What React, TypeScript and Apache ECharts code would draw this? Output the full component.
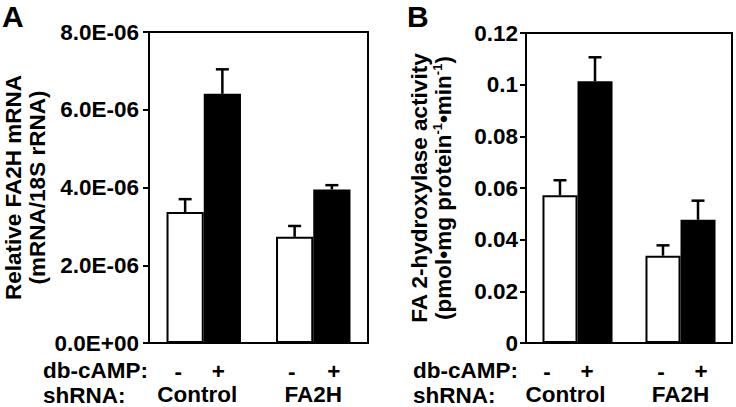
import React, { useEffect, useRef } from "react";
import * as echarts from "echarts";

// ---- data ----
const categories = ["Control", "FA2H"];
const treatmentSigns = ["-", "+"];
const seriesNames = ["db-cAMP -", "db-cAMP +"];

// Panel A: relative FA2H mRNA
const mrnaMinus = [3.37e-6, 2.73e-6];
const mrnaMinusErr = [0.33e-6, 0.28e-6];
const mrnaPlus = [6.41e-6, 3.95e-6];
const mrnaPlusErr = [0.63e-6, 0.11e-6];
const mrnaAxisMax = 8e-6;
const mrnaAxisInterval = 2e-6;

// Panel B: FA 2-hydroxylase activity
const actMinus = [0.0572, 0.0338];
const actMinusErr = [0.0058, 0.004];
const actPlus = [0.1013, 0.0477];
const actPlusErr = [0.0093, 0.0074];
const actAxisMax = 0.12;
const actAxisInterval = 0.02;

// ---- layout / style ----
const FONT = "'Liberation Sans', Arial, Helvetica, sans-serif";
const FS = 22.5;
const GAP = 0.32;

const expFmt = (v: number) => {
  if (v === 0) return "0.0E+00";
  const e = Math.floor(Math.log10(v) + 1e-9);
  const m = v / Math.pow(10, e);
  return m.toFixed(1) + "E" + (e < 0 ? "-" : "+") + String(Math.abs(e)).padStart(2, "0");
};

const txt = { color: "#000", fontFamily: FONT, fontWeight: "bold" as const, fontSize: FS };

function errorSeries(gridIdx: number, means: number[], errs: number[], side: number) {
  return {
    type: "custom",
    xAxisIndex: gridIdx,
    yAxisIndex: gridIdx,
    z: 5,
    silent: true,
    data: means.map((m, i) => [i, m, errs[i]]),
    renderItem: (params: any, api: any) => {
      const ci = api.value(0);
      const m = api.value(1);
      const e = api.value(2);
      const base = api.coord([ci, m]);
      const top = api.coord([ci, m + e]);
      const band = api.size([1, 0])[0];
      const bw = (band * (1 - GAP)) / 2;
      const x = base[0] + (side * bw) / 2;
      const cap = 6.5;
      const st = { stroke: "#000", lineWidth: 2.5 };
      return {
        type: "group",
        children: [
          { type: "line", shape: { x1: x, y1: base[1], x2: x, y2: top[1] }, style: st },
          { type: "line", shape: { x1: x - cap, y1: top[1], x2: x + cap, y2: top[1] }, style: st },
        ],
      };
    },
  };
}

function barSeries(gridIdx: number, name: string, values: number[], fill: string, sign: string, dx: number[]) {
  return {
    type: "bar",
    name,
    xAxisIndex: gridIdx,
    yAxisIndex: gridIdx,
    barGap: "0%",
    barCategoryGap: GAP * 100 + "%",
    itemStyle: { color: fill, borderColor: "#000", borderWidth: 2 },
    data: values.map((v, i) => ({
      value: v,
      label: {
        show: true,
        position: ["50%", "100%"],
        align: "center",
        verticalAlign: "middle",
        offset: [dx[i], 28],
        lineHeight: 20,
        formatter: () => sign,
        ...txt,
      },
    })),
  };
}

function xAxisCfg(gridIdx: number, shiftPad: number) {
  return {
    type: "category",
    gridIndex: gridIdx,
    data: categories,
    axisTick: { show: false },
    axisLine: { lineStyle: { color: "#000", width: 2 } },
    axisLabel: {
      margin: 42,
      interval: 0,
      formatter: (v: string, i: number) => `{c${i}|${v}}`,
      rich: {
        c0: { ...txt, lineHeight: 19, padding: [0, shiftPad, 0, 0] },
        c1: { ...txt, lineHeight: 19 },
      },
    },
  };
}

const rowLabel = (x: number, y: number, text: string) => ({
  type: "text",
  x,
  y,
  style: { text, fill: "#000", font: `bold ${FS}px ${FONT}`, lineHeight: 18, verticalAlign: "middle" },
});

export default function App() {
  const ref = useRef<HTMLDivElement>(null);
  useEffect(() => {
    if (!ref.current) return;
    const chart = echarts.init(ref.current, undefined, { renderer: "svg" });
    const nameRich = {
      n: { ...txt, lineHeight: 24, align: "center" },
      s: { ...txt, fontSize: 13, lineHeight: 14, verticalAlign: "top", align: "center" },
    };
    chart.setOption({
      animation: false,
      backgroundColor: "#fff",
      title: [
        { text: "A", left: 2, top: 1, padding: 0, textStyle: { ...txt, fontSize: 30, lineHeight: 30 } },
        { text: "B", left: 407, top: 1, padding: 0, textStyle: { ...txt, fontSize: 30, lineHeight: 30 } },
      ],
      grid: [
        { left: 148, right: 368, top: 32, bottom: 64, show: true, borderColor: "#000", borderWidth: 2, backgroundColor: "transparent" },
        { left: 526, right: 4, top: 33, bottom: 64, show: true, borderColor: "#000", borderWidth: 2, backgroundColor: "transparent" },
      ],
      xAxis: [xAxisCfg(0, 13), xAxisCfg(1, 24)],
      yAxis: [
        {
          type: "value",
          gridIndex: 0,
          min: 0,
          max: mrnaAxisMax,
          interval: mrnaAxisInterval,
          splitLine: { show: false },
          axisLine: { show: true, lineStyle: { color: "#000", width: 2 } },
          axisTick: { show: true, length: 6, lineStyle: { color: "#000", width: 2 } },
          axisLabel: { ...txt, margin: 10, formatter: expFmt },
          name: "Relative FA2H mRNA\n(mRNA/18S rRNA)",
          nameLocation: "middle",
          nameGap: 100,
          nameTextStyle: { ...txt, lineHeight: 24 },
        },
        {
          type: "value",
          gridIndex: 1,
          min: 0,
          max: actAxisMax,
          interval: actAxisInterval,
          splitLine: { show: false },
          axisLine: { show: true, lineStyle: { color: "#000", width: 2 } },
          axisTick: { show: true, length: 6, lineStyle: { color: "#000", width: 2 } },
          axisLabel: { ...txt, margin: 8 },
          name: "{n|FA 2-hydroxylase activity}\n{n|(pmol•mg protein}{s|-1}{n|•min}{s|-1}{n|)}",
          nameLocation: "middle",
          nameGap: 71,
          nameTextStyle: { ...txt, lineHeight: 24, rich: nameRich },
        },
      ],
      graphic: [
        rowLabel(43, 370, "db-cAMP:"),
        rowLabel(43, 395, "shRNA:"),
        rowLabel(413, 370, "db-cAMP:"),
        rowLabel(413, 395, "shRNA:"),
      ],
      series: [
        barSeries(0, seriesNames[0], mrnaMinus, "#fff", treatmentSigns[0], [-7, -3]),
        barSeries(0, seriesNames[1], mrnaPlus, "#000", treatmentSigns[1], [-4, 2]),
        errorSeries(0, mrnaMinus, mrnaMinusErr, -1),
        errorSeries(0, mrnaPlus, mrnaPlusErr, 1),
        barSeries(1, seriesNames[0], actMinus, "#fff", treatmentSigns[0], [-13, -2]),
        barSeries(1, seriesNames[1], actPlus, "#000", treatmentSigns[1], [-8, 3]),
        errorSeries(1, actMinus, actMinusErr, -1),
        errorSeries(1, actPlus, actPlusErr, 1),
      ],
    });
    return () => chart.dispose();
  }, []);
  return <div ref={ref} style={{ position: "fixed", left: 0, top: 0, width: 736, height: 407 }} />;
}
